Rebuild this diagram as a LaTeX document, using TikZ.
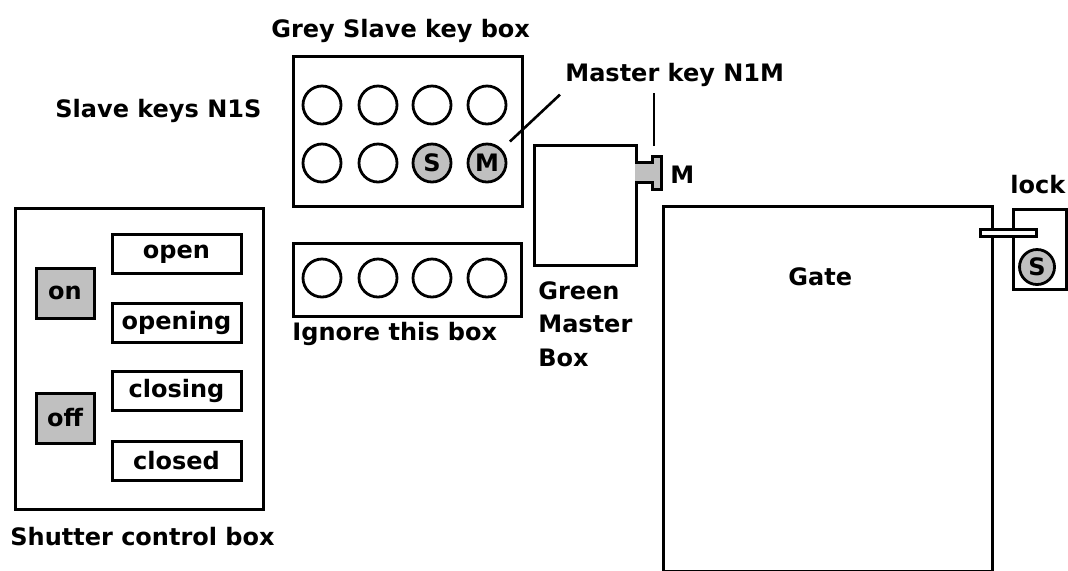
\documentclass[tikz,border=0pt]{standalone}
\usepackage{fontspec}
\setmainfont{DejaVu Sans}
\usepackage{xcolor}
\definecolor{keygrey}{RGB}{192, 192, 192}
\usepackage{tikz}
\usetikzlibrary{
  positioning,
  calc
}

\begin{document}
\begin{tikzpicture}[x=0.5pt, y=-0.5pt,
    every node/.style={font=\fontsize{12}{16.75}\selectfont\bfseries},
    panel/.style={draw, line width=1.5pt, inner sep=0pt, anchor=north west},
    statebox/.style={draw, line width=1.5pt, inner sep=0pt, minimum width=64.5pt, minimum height=19.5pt},
    switchbox/.style={draw, line width=1.5pt, fill=keygrey, inner sep=0pt, minimum width=29pt, minimum height=25pt},
    keyhole/.style={circle, draw, line width=1.4pt, inner sep=0pt, minimum size=19pt},
    usedkey/.style={keyhole, fill=keygrey},
    caption/.style={inner sep=0pt, anchor=base west},
    leader/.style={line width=1.3pt}]

  \useasboundingbox (0, 0) rectangle (1068, 570);

  % shutter control box
  \node[panel, minimum width=124pt, minimum height=150.5pt] (shutter) at (14, 207) {};
  \node[switchbox] (on) at (65, 293) {on};
  \node[switchbox] (off) at (65, 418) {off};
  \node[statebox] (open) at (176.5, 254) {open};
  \node[statebox] (opening) at (176.5, 323) {opening};
  \node[statebox] (closing) at (176.5, 390.5) {closing};
  \node[statebox] (closed) at (176.5, 460.5) {closed};
  \node[caption] (shutterlbl) at (10, 545) {Shutter control box};

  % grey slave key box
  \node[panel, minimum width=114.5pt, minimum height=75pt] (slave) at (292, 55) {};
  \node[caption] (slavelbl) at (271, 37) {Grey Slave key box};
  \node[caption] (slavekeys) at (55, 117) {Slave keys N1S};
  \foreach \x [count=\i] in {322, 378, 432, 487} {
    \node[keyhole] (top\i) at (\x, 105) {};
  }
  \foreach \x [count=\i] in {322, 378} {
    \node[keyhole] (bot\i) at (\x, 163) {};
  }
  \node[usedkey] (ks) at (432, 163) {S};
  \node[usedkey] (km) at (487, 163) {M};

  % ignored box
  \node[panel, minimum width=114pt, minimum height=36.5pt] (ignore) at (292, 242) {};
  \foreach \x [count=\i] in {322, 378, 432, 487} {
    \node[keyhole] (ign\i) at (\x, 278) {};
  }
  \node[caption] (ignorelbl) at (292, 340) {Ignore this box};

  % green master box with its key
  \node[panel, minimum width=51pt, minimum height=60pt] (green) at (533, 144) {};
  \draw[line width=1.5pt, fill=keygrey]
    (635, 162) -- (652, 162) -- (652, 156) -- (661, 156) -- (661, 189) -- (652, 189) -- (652, 182) -- (635, 182);
  \coordinate (knobtip) at (654, 146);
  \node[caption] (knoblbl) at (670, 183) {M};
  \node[inner sep=0pt, anchor=north west, align=left] (greenlbl) at (538, 281) {Green\\Master\\Box};

  % master key label and leaders
  \node[caption] (mkeylbl) at (565, 81) {Master key N1M};
  \draw[leader, shorten >=5.5pt] ([shift={(-5, 8)}]mkeylbl.south west) -- (km);
  \draw[leader, shorten >=3pt] (knobtip) -- (knobtip |- mkeylbl.south);

  % gate and lock
  \node[panel, minimum width=164.5pt, minimum height=182.5pt] (gate) at (662, 205) {};
  \node[caption] (gatelbl) at (788, 285) {Gate};
  \node[panel, minimum width=26.5pt, minimum height=40pt] (lock) at (1012, 208) {};
  \node[caption] (locklbl) at (1010, 193) {lock};
  \node[usedkey, minimum size=17.5pt] (lockkey) at (1037, 267) {S};
  \draw[line width=1.5pt, fill=white] (980, 229) rectangle (1036, 236);

\end{tikzpicture}
\end{document}
